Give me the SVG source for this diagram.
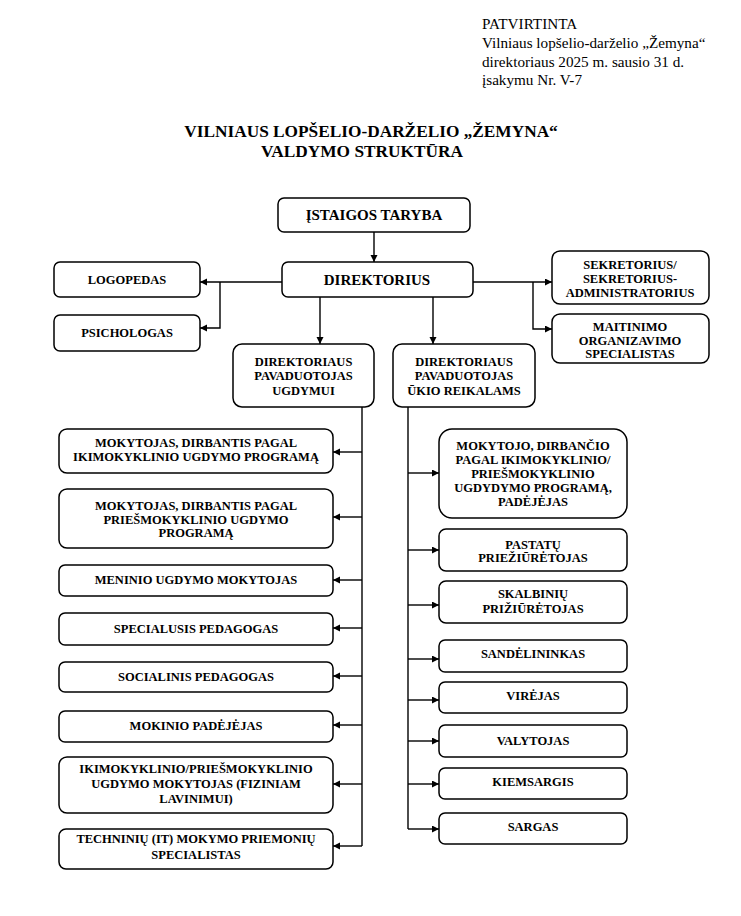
<svg xmlns="http://www.w3.org/2000/svg" width="741" height="916" viewBox="0 0 741 916">
<style>
.bg{fill:#fff}
.box{fill:#fff;stroke:#000;stroke-width:1.5}
.t{font-family:"Liberation Serif","Times New Roman",serif;font-weight:bold;font-size:12.5px;text-anchor:middle;fill:#000}
.tl{font-size:15px}
.hdr{font-family:"Liberation Serif","Times New Roman",serif;font-size:15.2px;fill:#000}
.title{font-family:"Liberation Serif","Times New Roman",serif;font-weight:bold;font-size:17.3px;text-anchor:middle;fill:#000}
.c{fill:none;stroke:#000;stroke-width:1.4}
</style>
<defs>
<marker id="ah" markerUnits="userSpaceOnUse" markerWidth="8" markerHeight="8" refX="7" refY="3.5" orient="auto">
<path d="M0,0 L7,3.5 L0,7 z" fill="#000"/>
</marker>
</defs>
<rect class="bg" x="0" y="0" width="741" height="916"/>
<g id="header">
<text class="hdr" x="482" y="29">PATVIRTINTA</text>
<text class="hdr" x="482" y="48">Vilniaus lopšelio-darželio „Žemyna“</text>
<text class="hdr" x="482" y="67">direktoriaus 2025 m. sausio 31 d.</text>
<text class="hdr" x="482" y="85">įsakymu Nr. V-7</text>
</g>
<g id="title">
<text class="title" x="371" y="137">VILNIAUS LOPŠELIO-DARŽELIO „ŽEMYNA“</text>
<text class="title" x="362" y="157">VALDYMO STRUKTŪRA</text>
</g>
<g id="connectors">
<path class="c" d="M374,232 V262" marker-end="url(#ah)"/>
<path class="c" d="M282,282 H200" marker-end="url(#ah)"/>
<path class="c" d="M220,282 V328 H200" marker-end="url(#ah)"/>
<path class="c" d="M473,282 H552" marker-end="url(#ah)"/>
<path class="c" d="M533,282 V329 H552" marker-end="url(#ah)"/>
<path class="c" d="M320,297 V344" marker-end="url(#ah)"/>
<path class="c" d="M433,297 V344" marker-end="url(#ah)"/>
<path class="c" d="M362,407 V846"/>
<path class="c" d="M362,452 H333" marker-end="url(#ah)"/>
<path class="c" d="M362,517 H333" marker-end="url(#ah)"/>
<path class="c" d="M362,580 H333" marker-end="url(#ah)"/>
<path class="c" d="M362,628 H333" marker-end="url(#ah)"/>
<path class="c" d="M362,676 H333" marker-end="url(#ah)"/>
<path class="c" d="M362,725 H333" marker-end="url(#ah)"/>
<path class="c" d="M362,784 H333" marker-end="url(#ah)"/>
<path class="c" d="M362,846 H333" marker-end="url(#ah)"/>
<path class="c" d="M408,407 V829"/>
<path class="c" d="M408,473 H439" marker-end="url(#ah)"/>
<path class="c" d="M408,550 H439" marker-end="url(#ah)"/>
<path class="c" d="M408,605 H439" marker-end="url(#ah)"/>
<path class="c" d="M408,659 H439" marker-end="url(#ah)"/>
<path class="c" d="M408,700 H439" marker-end="url(#ah)"/>
<path class="c" d="M408,741 H439" marker-end="url(#ah)"/>
<path class="c" d="M408,784 H439" marker-end="url(#ah)"/>
<path class="c" d="M408,829 H439" marker-end="url(#ah)"/>
</g>
<g id="taryba"><rect class="box" x="278" y="198" width="192" height="34" rx="6"/><text class="t tl" x="374" y="220">ĮSTAIGOS TARYBA</text></g>
<g id="direktorius"><rect class="box" x="282" y="262" width="191" height="35" rx="6"/><text class="t tl" x="377" y="285">DIREKTORIUS</text></g>
<g id="logopedas"><rect class="box" x="54" y="262" width="146" height="35" rx="6"/><text class="t" x="127" y="284">LOGOPEDAS</text></g>
<g id="psichologas"><rect class="box" x="54" y="315" width="146" height="36" rx="6"/><text class="t" x="127" y="337">PSICHOLOGAS</text></g>
<g id="sekretorius"><rect class="box" x="552" y="251" width="157" height="53" rx="8"/><text class="t" x="630" y="269">SEKRETORIUS/</text><text class="t" x="630" y="283">SEKRETORIUS-</text><text class="t" x="630" y="297">ADMINISTRATORIUS</text></g>
<g id="maitinimo"><rect class="box" x="552" y="314" width="157" height="49" rx="8"/><text class="t" x="630" y="331">MAITINIMO</text><text class="t" x="630" y="345">ORGANIZAVIMO</text><text class="t" x="630" y="358">SPECIALISTAS</text></g>
<g id="pav-ugdymui"><rect class="box" x="233" y="344" width="141" height="63" rx="9"/><text class="t" x="303.5" y="365.5">DIREKTORIAUS</text><text class="t" x="303.5" y="380">PAVADUOTOJAS</text><text class="t" x="303.5" y="394.5">UGDYMUI</text></g>
<g id="pav-ukio"><rect class="box" x="393" y="344" width="142" height="63" rx="9"/><text class="t" x="464" y="365.5">DIREKTORIAUS</text><text class="t" x="464" y="380">PAVADUOTOJAS</text><text class="t" x="464" y="394.5">ŪKIO REIKALAMS</text></g>
<g id="l1"><rect class="box" x="59" y="429" width="274" height="44" rx="8"/><text class="t" x="196" y="447">MOKYTOJAS, DIRBANTIS PAGAL</text><text class="t" x="196" y="461">IKIMOKYKLINIO UGDYMO PROGRAMĄ</text></g>
<g id="l2"><rect class="box" x="59" y="489" width="274" height="59" rx="8"/><text class="t" x="196" y="510">MOKYTOJAS, DIRBANTIS PAGAL</text><text class="t" x="196" y="524">PRIEŠMOKYKLINIO UGDYMO</text><text class="t" x="196" y="537">PROGRAMĄ</text></g>
<g id="l3"><rect class="box" x="59" y="565" width="274" height="31" rx="6"/><text class="t" x="196" y="584">MENINIO UGDYMO MOKYTOJAS</text></g>
<g id="l4"><rect class="box" x="59" y="613" width="274" height="32" rx="6"/><text class="t" x="196" y="633">SPECIALUSIS PEDAGOGAS</text></g>
<g id="l5"><rect class="box" x="59" y="662" width="274" height="30" rx="6"/><text class="t" x="196" y="681">SOCIALINIS PEDAGOGAS</text></g>
<g id="l6"><rect class="box" x="59" y="711" width="274" height="31" rx="6"/><text class="t" x="196" y="730">MOKINIO PADĖJĖJAS</text></g>
<g id="l7"><rect class="box" x="59" y="757" width="274" height="56" rx="8"/><text class="t" x="196" y="773">IKIMOKYKLINIO/PRIEŠMOKYKLINIO</text><text class="t" x="196" y="788">UGDYMO MOKYTOJAS (FIZINIAM</text><text class="t" x="196" y="803">LAVINIMUI)</text></g>
<g id="l8"><rect class="box" x="59" y="829" width="274" height="40" rx="7"/><text class="t" x="196" y="843">TECHNINIŲ (IT) MOKYMO PRIEMONIŲ</text><text class="t" x="196" y="859">SPECIALISTAS</text></g>
<g id="r1"><rect class="box" x="439" y="429" width="188" height="89" rx="13"/><text class="t" x="533" y="450">MOKYTOJO, DIRBANČIO</text><text class="t" x="533" y="464">PAGAL IKIMOKYKLINIO/</text><text class="t" x="533" y="478">PRIEŠMOKYKLINIO</text><text class="t" x="533" y="492">UGDYDYMO PROGRAMĄ,</text><text class="t" x="533" y="506">PADĖJĖJAS</text></g>
<g id="r2"><rect class="box" x="439" y="529" width="188" height="42" rx="7"/><text class="t" x="533" y="549">PASTATŲ</text><text class="t" x="533" y="562">PRIEŽIŪRĖTOJAS</text></g>
<g id="r3"><rect class="box" x="439" y="581" width="188" height="42" rx="7"/><text class="t" x="533" y="598">SKALBINIŲ</text><text class="t" x="533" y="613">PRIŽIŪRĖTOJAS</text></g>
<g id="r4"><rect class="box" x="439" y="640" width="188" height="32" rx="6"/><text class="t" x="533" y="658">SANDĖLININKAS</text></g>
<g id="r5"><rect class="box" x="439" y="682" width="188" height="31" rx="6"/><text class="t" x="533" y="700">VIRĖJAS</text></g>
<g id="r6"><rect class="box" x="439" y="725" width="188" height="32" rx="6"/><text class="t" x="533" y="745">VALYTOJAS</text></g>
<g id="r7"><rect class="box" x="439" y="768" width="188" height="31" rx="6"/><text class="t" x="533" y="786">KIEMSARGIS</text></g>
<g id="r8"><rect class="box" x="439" y="813" width="188" height="31" rx="6"/><text class="t" x="533" y="831">SARGAS</text></g>
</svg>
